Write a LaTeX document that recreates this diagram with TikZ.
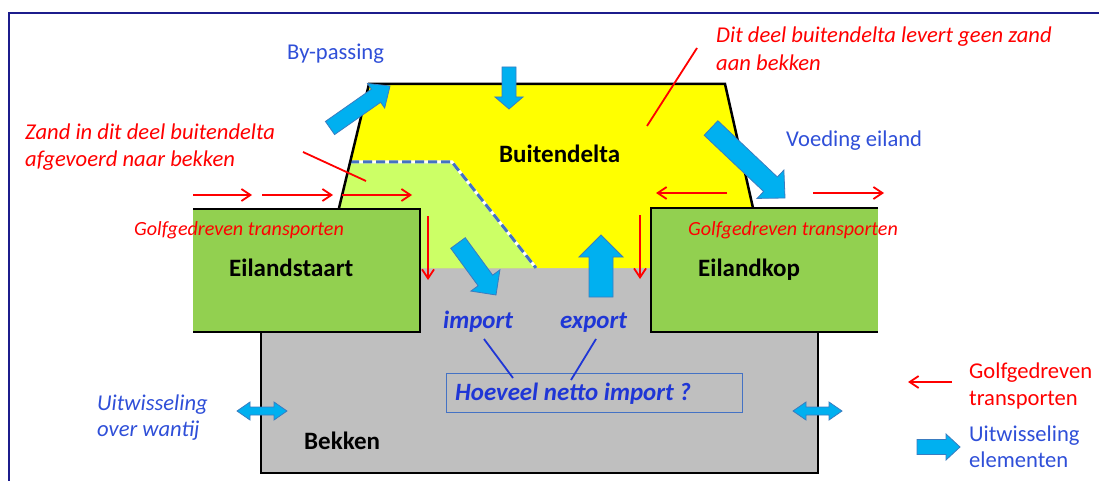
\documentclass[tikz,border=0pt]{standalone}
\usepackage{fontspec}
\setmainfont{Carlito}
\usetikzlibrary{calc,arrows.meta}

\definecolor{deltayellow}{HTML}{FFFF00}
\definecolor{lightgreen}{HTML}{CCFF66}
\definecolor{islandgreen}{HTML}{92D050}
\definecolor{basingray}{HTML}{BFBFBF}
\definecolor{flowblue}{HTML}{00B0F0}
\definecolor{flowedge}{HTML}{3A7CC0}
\definecolor{labelblue}{HTML}{2F4FD8}
\definecolor{strongblue}{HTML}{1F36D6}
\definecolor{framenavy}{HTML}{1C1C8C}
\definecolor{dashblue}{HTML}{4472C4}

% single block arrow: tail, tip, shaft half width, head half width, head length
\newcommand\blockarrow[5]{%
  \coordinate (ba-c) at ($(#2)!#5!(#1)$);
  \filldraw[flowfill]
    ($(#1)!#3!90:(#2)$) -- ($(ba-c)!#3!90:(#2)$) -- ($(ba-c)!#4!90:(#2)$) -- (#2)
    -- ($(ba-c)!#4!-90:(#2)$) -- ($(ba-c)!#3!-90:(#2)$) -- ($(#1)!#3!-90:(#2)$) -- cycle;}

% two-headed block arrow: end, end, shaft half width, head half width, head length
\newcommand\twowayarrow[5]{%
  \coordinate (tw-a) at ($(#1)!#5!(#2)$);
  \coordinate (tw-b) at ($(#2)!#5!(#1)$);
  \filldraw[flowfill]
    (#1) -- ($(tw-a)!#4!90:(#2)$) -- ($(tw-a)!#3!90:(#2)$) -- ($(tw-b)!#3!-90:(#1)$)
    -- ($(tw-b)!#4!-90:(#1)$) -- (#2) -- ($(tw-b)!#4!90:(#1)$) -- ($(tw-b)!#3!90:(#1)$)
    -- ($(tw-a)!#3!-90:(#2)$) -- ($(tw-a)!#4!-90:(#2)$) -- cycle;}

\begin{document}
\begin{tikzpicture}[x=1pt,y=-1pt,
  outline/.style={black, line width=2.5pt, line join=miter},
  flowfill/.style={fill=flowblue, draw=flowedge, line width=0.8pt, line join=miter},
  wave/.style={red, line width=1.8pt, -{Straight Barb[length=9pt,width=12pt]}},
  pointer/.style={red, line width=1.8pt},
  bluepointer/.style={strongblue, line width=1.8pt},
  txt/.style={inner sep=0pt, anchor=base west},
  redit/.style={txt, text=red, font=\fontsize{22.6}{27}\selectfont\itshape},
  redsmall/.style={txt, text=red, font=\fontsize{20.1}{24}\selectfont\itshape},
  redup/.style={txt, text=red, font=\fontsize{22.6}{27}\selectfont},
  blueup/.style={txt, text=labelblue, font=\fontsize{22.6}{27}\selectfont},
  blueit/.style={txt, text=labelblue, font=\fontsize{22.6}{27}\selectfont\itshape},
  bluebold/.style={txt, text=strongblue, font=\fontsize{24.9}{29}\selectfont\bfseries\itshape},
  title/.style={txt, text=black, font=\fontsize{25}{30}\selectfont\bfseries}]

\useasboundingbox (0,0) rectangle (1099,481);

% slide frame
\draw[framenavy, line width=2pt] (9,481) -- (9,13) -- (1099,13);

% basin
\fill[basingray] (261,268) rectangle (818,473);
\draw[outline] (261,330) -- (261,473) -- (818,473) -- (818,330);

% ebb-tidal delta and the part feeding the basin
\fill[deltayellow] (339,208) -- (369,84) -- (725,84) -- (753,208) -- (651,208)
  -- (651,268) -- (420,268) -- (420,208) -- cycle;
\fill[lightgreen] (350,162) -- (452,162) -- (536,268) -- (420,268) -- (420,208)
  -- (339,208) -- cycle;
\draw[white, line width=3pt] (350,162) -- (452,162) -- (536,268);
\draw[dashblue, line width=3pt, dash pattern=on 9pt off 4pt] (350,162) -- (452,162) -- (536,268);

% islands
\fill[islandgreen] (193,209) rectangle (420,332);
\draw[outline] (193,209) -- (420,209) -- (420,332) -- (193,332);
\fill[islandgreen] (651,208) rectangle (878,332);
\draw[outline] (878,208) -- (651,208) -- (651,332) -- (878,332);

% delta contour
\draw[outline] (339,208) -- (369,84) -- (725,84) -- (753,208);

% exchange elements
\coordinate (bp-tail) at (330,128);
\coordinate (bp-tip) at (390,86);
\coordinate (top-tail) at (509,67);
\coordinate (top-tip) at (509,109);
\coordinate (ve-tail) at (711,128);
\coordinate (ve-tip) at (785,198);
\coordinate (im-tail) at (458,243);
\coordinate (im-tip) at (496,295);
\coordinate (ex-tail) at (601,297);
\coordinate (ex-tip) at (601,235);
\coordinate (wl-a) at (237,411);
\coordinate (wl-b) at (287,411);
\coordinate (wr-a) at (793,411);
\coordinate (wr-b) at (842,411);
\coordinate (lg-tail) at (917,447);
\coordinate (lg-tip) at (960,447);

\blockarrow{bp-tail}{bp-tip}{8pt}{15pt}{17pt}
\blockarrow{top-tail}{top-tip}{7pt}{14pt}{12pt}
\blockarrow{ve-tail}{ve-tip}{10pt}{19.5pt}{20pt}
\blockarrow{im-tail}{im-tip}{9pt}{18pt}{18pt}
\blockarrow{ex-tail}{ex-tip}{12pt}{22pt}{22pt}
\twowayarrow{wl-a}{wl-b}{4pt}{9pt}{13pt}
\twowayarrow{wr-a}{wr-b}{4pt}{9pt}{13pt}
\blockarrow{lg-tail}{lg-tip}{7.5pt}{13pt}{14pt}

% wave-driven transports
\coordinate (w1a) at (193,195); \coordinate (w1b) at (252,195);
\coordinate (w2a) at (262,195); \coordinate (w2b) at (333,195);
\coordinate (w3a) at (342,195); \coordinate (w3b) at (412,195);
\coordinate (w4a) at (727,193); \coordinate (w4b) at (656,193);
\coordinate (w5a) at (813,193); \coordinate (w5b) at (884,193);
\coordinate (d1a) at (428,216); \coordinate (d1b) at (428,280);
\coordinate (d2a) at (640,215); \coordinate (d2b) at (640,279);
\coordinate (lw-a) at (952,382); \coordinate (lw-b) at (908,382);
\foreach \s/\e in {w1a/w1b, w2a/w2b, w3a/w3b, w4a/w4b, w5a/w5b, d1a/d1b, d2a/d2b, lw-a/lw-b}
  \draw[wave] (\s) -- (\e);

% annotation pointers
\coordinate (zp-a) at (303,152); \coordinate (zp-b) at (366,181);
\coordinate (dp-a) at (697,48);  \coordinate (dp-b) at (647,126);
\draw[pointer] (zp-a) -- (zp-b);
\draw[pointer] (dp-a) -- (dp-b);

% question box
\node[draw=dashblue, line width=1pt, minimum width=296pt, minimum height=39pt,
  inner sep=0pt, anchor=north west] (netto) at (446,373) {};
\node[bluebold] (nettotxt) at (455,400) {Hoeveel netto import ?};

% labels
\node[bluebold] (import) at (443,328) {import};
\node[bluebold] (export) at (560,328) {export};
\coordinate (il-a) at (484,339); \coordinate (il-b) at (513,378);
\coordinate (el-a) at (596,339); \coordinate (el-b) at (571,380);
\draw[bluepointer] (il-a) -- (il-b);
\draw[bluepointer] (el-a) -- (el-b);

\node[blueup] (bypass) at (287,60) {By-passing};
\node[blueup] (voeding) at (786,147) {Voeding eiland};
\node[redit] (dit1) at (716,43) {Dit deel buitendelta levert geen zand};
\node[redit] (dit2) at (716,71) {aan bekken};
\node[redit] (zand1) at (25,140) {Zand in dit deel buitendelta};
\node[redit] (zand2) at (25,167) {afgevoerd naar bekken};
\node[title] (delta) at (499,163) {Buitendelta};
\node[redsmall] (golfL) at (134,235) {Golfgedreven transporten};
\node[redsmall] (golfR) at (688,235) {Golfgedreven transporten};
\node[title] (staart) at (229,276) {Eilandstaart};
\node[title] (kop) at (698,276) {Eilandkop};
\node[blueit] (uit1) at (97,410) {Uitwisseling};
\node[blueit] (uit2) at (97,436) {over wantij};
\node[title] (bekken) at (304,449) {Bekken};
\node[redup] (lg1) at (969,378) {Golfgedreven};
\node[redup] (lg2) at (969,405) {transporten};
\node[blueup] (lg3) at (969,441) {Uitwisseling};
\node[blueup] (lg4) at (969,467) {elementen};
\end{tikzpicture}
\end{document}
